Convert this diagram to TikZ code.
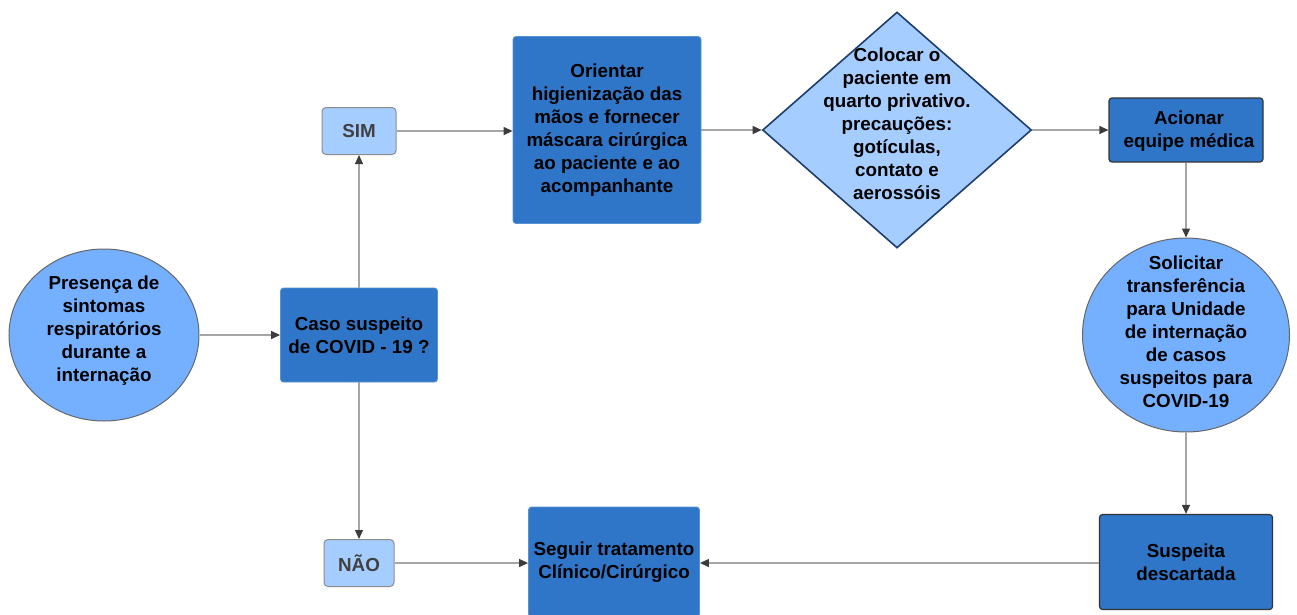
\documentclass[tikz,border=0pt]{standalone}
\usepackage{fontspec}
\setmainfont{Liberation Sans}
\usetikzlibrary{arrows.meta,shapes.geometric}
\definecolor{boxdark}{RGB}{48,118,200}
\definecolor{circfill}{RGB}{116,176,255}
\definecolor{palefill}{RGB}{166,205,255}
\definecolor{diaborder}{RGB}{30,62,108}
\definecolor{linegrey}{RGB}{165,165,165}
\definecolor{tipgrey}{RGB}{60,60,60}
\tikzset{
  txt/.style={font=\fontsize{18.8}{23}\selectfont\bfseries, align=center, text=black},
  darkbox/.style={txt, rectangle, rounded corners=3pt, fill=boxdark, draw=boxdark!80!white, line width=0.8pt, inner sep=0pt},
  darkboxb/.style={darkbox, draw=black!80, line width=1.2pt},
  circ/.style={txt, ellipse, fill=circfill, draw=black!60, line width=1pt, inner sep=0pt},
  pale/.style={txt, rectangle, rounded corners=4pt, fill=palefill, draw=black!45, line width=1pt, text=black!75, inner sep=0pt},
  dia/.style={diamond, fill=palefill, draw=diaborder, line width=1.6pt, inner sep=0pt},
  conn/.style={draw=linegrey, line width=1.2pt, -{Triangle[length=9pt,width=8pt,color=tipgrey]}}
}
\begin{document}
\begin{tikzpicture}[x=1pt,y=-1pt]
\useasboundingbox (0,0) rectangle (1297,614);
\clip (0,0) rectangle (1297,614);
\node[circ, minimum width=190, minimum height=172] (pres) at (104,335) {};
\node[txt] (prestext) at (104,331) {Presença de\\sintomas\\respiratórios\\durante a\\internação};
\node[darkbox, minimum width=157, minimum height=94] (caso) at (359,335) {Caso suspeito\\de COVID - 19 ?};
\node[pale, minimum width=74, minimum height=47] (sim) at (359,131) {SIM};
\node[pale, minimum width=70, minimum height=47] (nao) at (359,563) {NÃO};
\node[darkbox, minimum width=188, minimum height=187] (ori) at (607,130) {Orientar\\higienização das\\mãos e fornecer\\máscara cirúrgica\\ao paciente e ao\\acompanhante};
\node[dia, minimum width=269, minimum height=236] (dia) at (897,130) {};
\node[txt] (diatext) at (897,124) {Colocar o\\paciente em\\quarto privativo.\\precauções:\\gotículas,\\contato e\\aerossóis};
\node[darkboxb, minimum width=154, minimum height=64] (acio) at (1186,130) {};
\node[txt] (aciotext) at (1189,131) {Acionar\\equipe médica};
\node[circ, minimum width=207, minimum height=194] (soli) at (1186,335) {};
\node[txt] (solitext) at (1186,332) {Solicitar\\transferência\\para Unidade\\de internação\\de casos\\suspeitos para\\COVID-19};
\node[darkboxb, minimum width=173, minimum height=95] (susp) at (1186,562) {Suspeita\\descartada};
\node[darkbox, minimum width=171, minimum height=110] (seg) at (614,562) {Seguir tratamento\\Clínico/Cirúrgico};
\draw[conn] (pres) -- (caso);
\draw[conn] (caso) -- (sim);
\draw[conn] (caso) -- (nao);
\draw[conn] (sim) -- (sim -| ori.west);
\draw[conn] (ori.east |- dia) -- (dia.west);
\draw[conn] (dia.east) -- (acio.west |- dia);
\draw[conn] (acio) -- (soli);
\draw[conn] (soli) -- (susp);
\draw[conn] (susp.west |- nao) -- (seg.east |- nao);
\draw[conn] (nao) -- (seg.west |- nao);
\end{tikzpicture}
\end{document}
